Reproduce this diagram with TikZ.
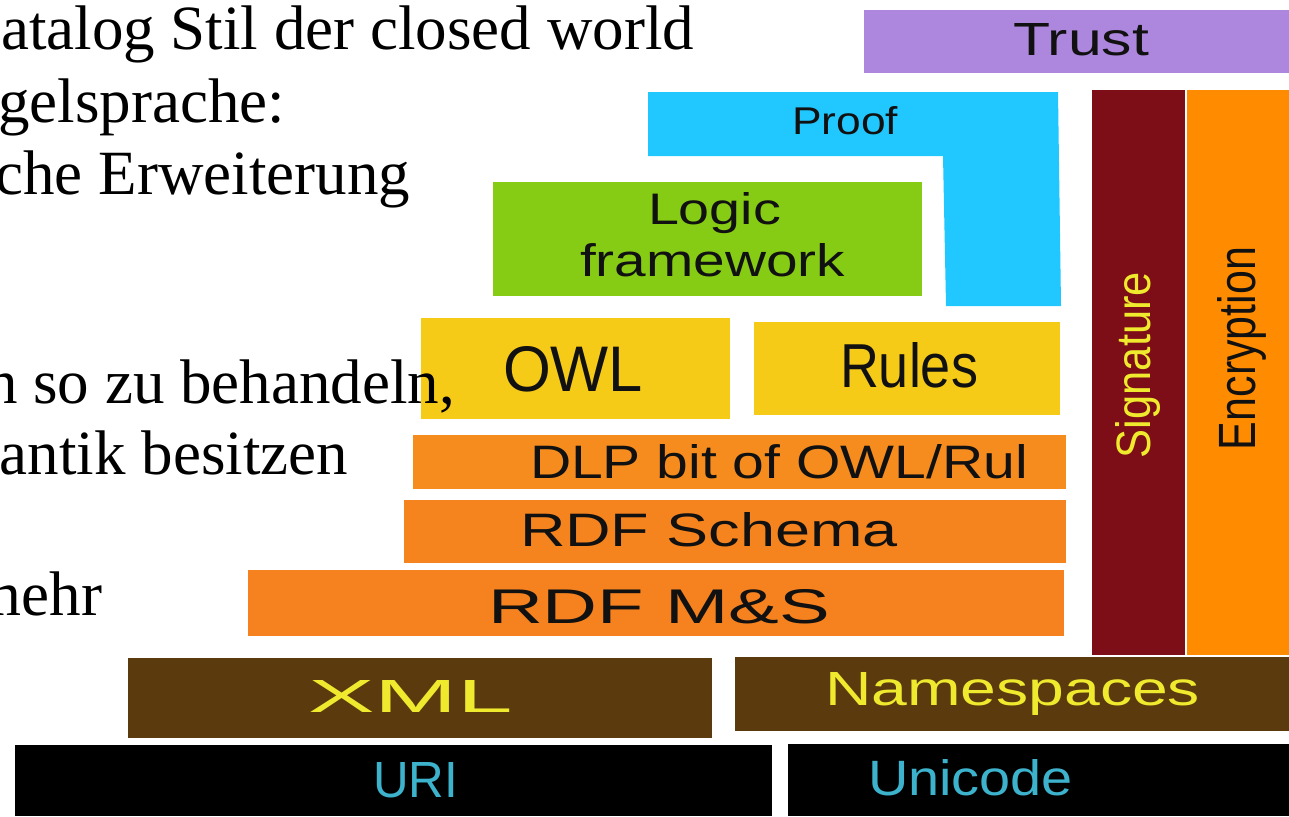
\documentclass[tikz,border=0pt]{standalone}
\usepackage{fontspec}
\usepackage{graphicx}
\setmainfont{Liberation Serif}
\newfontfamily\labelfont{Liberation Sans}

\definecolor{cTrust}{HTML}{AD86DD}
\definecolor{cProof}{HTML}{20C8FF}
\definecolor{cLogic}{HTML}{86CB14}
\definecolor{cYellow}{HTML}{F6CB17}
\definecolor{cDLP}{HTML}{F68C1E}
\definecolor{cSchema}{HTML}{F5831E}
\definecolor{cMS}{HTML}{F5821F}
\definecolor{cSig}{HTML}{7D0D17}
\definecolor{cEnc}{HTML}{FF8C00}
\definecolor{cXML}{HTML}{5B3A0E}
\definecolor{cYellowText}{HTML}{EFEA2E}
\definecolor{cCyanText}{HTML}{3DB2CC}
\definecolor{cInk}{HTML}{111111}

% a label squeezed into a given width and cap height (in pt)
\newcommand{\fitlabel}[3]{\resizebox{#1pt}{#2pt}{\labelfont #3}}

\begin{document}
\begin{tikzpicture}[x=1pt,y=-1pt,
  lbl/.style={inner sep=0pt, outer sep=0pt, anchor=base west, text=cInk},
  prose/.style={inner sep=0pt, outer sep=0pt, anchor=base east,
                font=\fontsize{63}{72}\selectfont}]
\useasboundingbox (0,0) rectangle (1289,816);
\fill[white] (0,0) rectangle (1289,816);

% layers of the stack
\fill[cTrust]  (864,10)  rectangle (1289,73);
\fill[cProof]  (648,92) -- (1058,92) -- (1061,306) -- (946,306) -- (943,156) -- (648,156) -- cycle;
\fill[cLogic]  (493,182) rectangle (922,296);
\fill[cYellow] (421,318) rectangle (730,419);
\fill[cYellow] (754,322) rectangle (1060,415);
\fill[cDLP]    (413,435) rectangle (1066,489);
\fill[cSchema] (404,500) rectangle (1066,563);
\fill[cMS]     (248,570) rectangle (1064,636);
\fill[cSig]    (1092,90) rectangle (1185,655);
\fill[cEnc]    (1187,90) rectangle (1289,655);
\fill[cXML]    (128,658) rectangle (712,738);
\fill[cXML]    (735,657) rectangle (1289,731);
\fill[black]   (15,745)  rectangle (772,816);
\fill[black]   (788,744) rectangle (1289,816);

% layer labels
\node[lbl] (trust)  at (1013,56)  {\fitlabel{136}{32}{Trust}};
\node[lbl] (proof)  at (792,134)  {\fitlabel{106}{28}{Proof}};
\node[lbl] (logic)  at (648,224)  {\fitlabel{133}{32}{Logic}};
\node[lbl] (frame)  at (580,276)  {\fitlabel{265}{33}{framework}};
\node[lbl] (owl)    at (503,391)  {\fitlabel{140}{45}{OWL}};
\node[lbl] (rules)  at (840,387)  {\fitlabel{138}{45}{Rules}};
\node[lbl] (dlp)    at (530,478)  {\fitlabel{498}{34}{DLP bit of OWL/Rul}};
\node[lbl] (schema) at (520,546)  {\fitlabel{378}{34}{RDF Schema}};
\node[lbl] (ms)     at (488,623)  {\fitlabel{342}{34}{RDF M\&S}};
\node[lbl, text=cYellowText] (xml) at (308,712) {\fitlabel{205}{32}{XML}};
\node[lbl, text=cYellowText] (ns)  at (825,705) {\fitlabel{375}{33}{Namespaces}};
\node[lbl, text=cCyanText] (uri)   at (373,797) {\fitlabel{85}{35}{URI}};
\node[lbl, text=cCyanText] (uni)   at (868,795) {\fitlabel{205}{36}{Unicode}};
\node[lbl, text=cYellowText, rotate=90] (sig) at (1150,458) {\fitlabel{186}{35}{Signature}};
\node[lbl, rotate=90] (enc) at (1255,450) {\fitlabel{203}{38}{Encryption}};

% slide text running behind the stack
\node[prose] (t1) at (694,50)  {atalog Stil der closed world};
\node[prose] (t2) at (285,122) {gelsprache:};
\node[prose] (t3) at (410,194) {che Erweiterung};
\node[prose] (t4) at (455,403) {n so zu behandeln,};
\node[prose] (t5) at (348,474) {antik besitzen};
\node[prose] (t6) at (102,615) {mehr};
\end{tikzpicture}
\end{document}
